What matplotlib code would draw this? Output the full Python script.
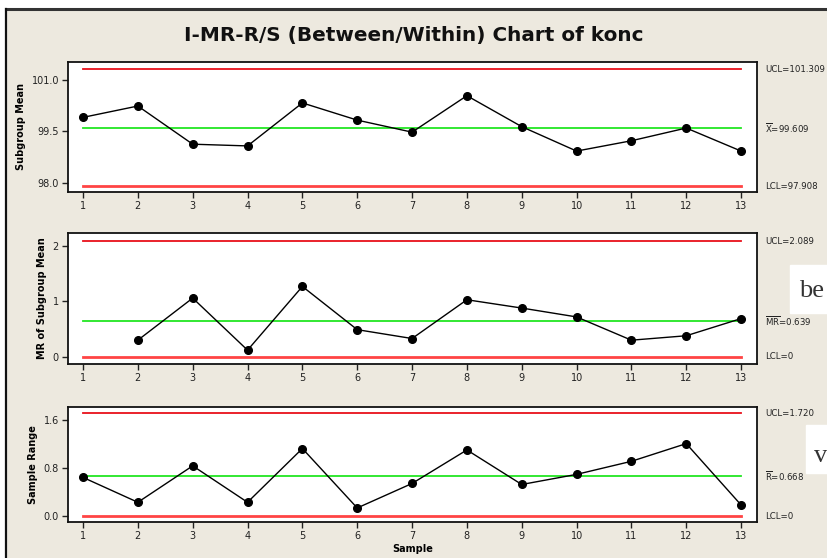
import matplotlib.pyplot as plt
from matplotlib.lines import Line2D
from matplotlib.patches import Rectangle
import numpy as np

# data
samples = np.arange(1, 14)
sub_mean = [99.91, 100.24, 99.13, 99.08, 100.33, 99.83, 99.48, 100.54, 99.64, 98.93, 99.23, 99.60, 98.93]
mr_mean = [np.nan, 0.30, 1.06, 0.12, 1.27, 0.49, 0.33, 1.03, 0.88, 0.72, 0.30, 0.38, 0.69]
s_range = [0.646, 0.23, 0.84, 0.23, 1.13, 0.135, 0.545, 1.106, 0.528, 0.697, 0.916, 1.212, 0.185]

# control limits (lcl, center, ucl)
lim1 = [97.908, 99.609, 101.309]
lim2 = [0, 0.639, 2.089]
lim3 = [0, 0.668, 1.720]
lab1 = ['LCL=97.908', r'$\overline{\mathrm{X}}$=99.609', 'UCL=101.309']
lab2 = ['LCL=0', r'$\overline{\mathrm{MR}}$=0.639', 'UCL=2.089']
lab3 = ['LCL=0', r'$\overline{\mathrm{R}}$=0.668', 'UCL=1.720']

bg = '#EDE9DF'
plt.rcParams['font.family'] = 'DejaVu Sans'
plt.rcParams['mathtext.fontset'] = 'dejavusans'
plt.rcParams['mathtext.default'] = 'regular'

W, H = 828, 558
fig = plt.figure(figsize=(8.28, 5.58), dpi=100, facecolor=bg)

# outer frame like the screenshot
fig.patches.append(Rectangle((0, 1 - 8 / H), 1, 8 / H, transform=fig.transFigure, color='white', zorder=0))
fig.patches.append(Rectangle((0, 0), 6 / W, 1, transform=fig.transFigure, color='white', zorder=0))
fig.add_artist(Line2D([6 / W, 1], [1 - 8.5 / H, 1 - 8.5 / H], color='#333333', lw=2.2))
fig.add_artist(Line2D([6.5 / W, 6.5 / W], [0, 1 - 8.5 / H], color='#111111', lw=1.6))

fig.text(0.5, 1 - 35 / H, 'I-MR-R/S (Between/Within) Chart of konc', ha='center', va='center',
         fontsize=14.4, fontweight='bold', color='#111111')

left, right = 68 / W, 757 / W
boxes = [(62, 192), (233, 364), (407, 522)]
ylims = [(97.74, 101.52), (-0.13, 2.235), (-0.10, 1.825)]
yticks = [([98.0, 99.5, 101.0], ['98.0', '99.5', '101.0']),
          ([0, 1, 2], ['0', '1', '2']),
          ([0.0, 0.8, 1.6], ['0.0', '0.8', '1.6'])]
ylabels = ['Subgroup Mean', 'MR of Subgroup Mean', 'Sample Range']
series = [sub_mean, mr_mean, s_range]
limits = [lim1, lim2, lim3]
labels = [lab1, lab2, lab3]

for i in range(3):
    top, bot = boxes[i]
    ax = fig.add_axes([left, 1 - bot / H, right - left, (bot - top) / H])
    ax.set_facecolor('white')
    lcl, cl, ucl = limits[i]
    ax.plot([1, 13], [ucl, ucl], color='#E8101A', lw=1.3, zorder=1)
    ax.plot([1, 13], [lcl, lcl], color='#FF4444', lw=2.0, zorder=1)
    ax.plot([1, 13], [cl, cl], color='#22E622', lw=1.3, zorder=1)
    ax.plot(samples, series[i], color='black', lw=1.0, marker='o', ms=5.5, zorder=3)
    ax.set_xlim(0.726, 13.29)
    ax.set_ylim(*ylims[i])
    ax.set_xticks(samples)
    ax.set_xticklabels([str(s) for s in samples])
    ax.set_yticks(yticks[i][0])
    ax.set_yticklabels(yticks[i][1])
    ax.tick_params(direction='out', length=4.5, width=1, labelsize=7, colors='#222222', pad=2)
    for sp in ax.spines.values():
        sp.set_linewidth(1.3)
        sp.set_color('#111111')
    ax.set_ylabel(ylabels[i], fontsize=7, fontweight='bold', labelpad=4)
    for val, txt in zip(limits[i], labels[i]):
        ax.annotate(txt, xy=(765 / W, val), xycoords=('figure fraction', 'data'),
                    ha='left', va='center', fontsize=6.2, color='#222222')
    if i == 2:
        ax.set_xlabel('Sample', fontsize=7, fontweight='bold', labelpad=2)

# pasted text fragments at the right edge
fig.patches.append(Rectangle((790 / W, 1 - 313 / H), 38 / W, 48 / H, transform=fig.transFigure,
                             color='white', zorder=5))
fig.text(799 / W, 1 - 297 / H, 'be', fontsize=19, family='Liberation Serif', color='#333333',
         ha='left', va='baseline', zorder=6)
fig.patches.append(Rectangle((806 / W, 1 - 473 / H), 22 / W, 48 / H, transform=fig.transFigure,
                             color='white', zorder=5))
fig.text(814 / W, 1 - 462 / H, 'v', fontsize=19, family='Liberation Serif', color='#333333',
         ha='left', va='baseline', zorder=6)

fig.savefig('out.png', dpi=100, facecolor=bg)
